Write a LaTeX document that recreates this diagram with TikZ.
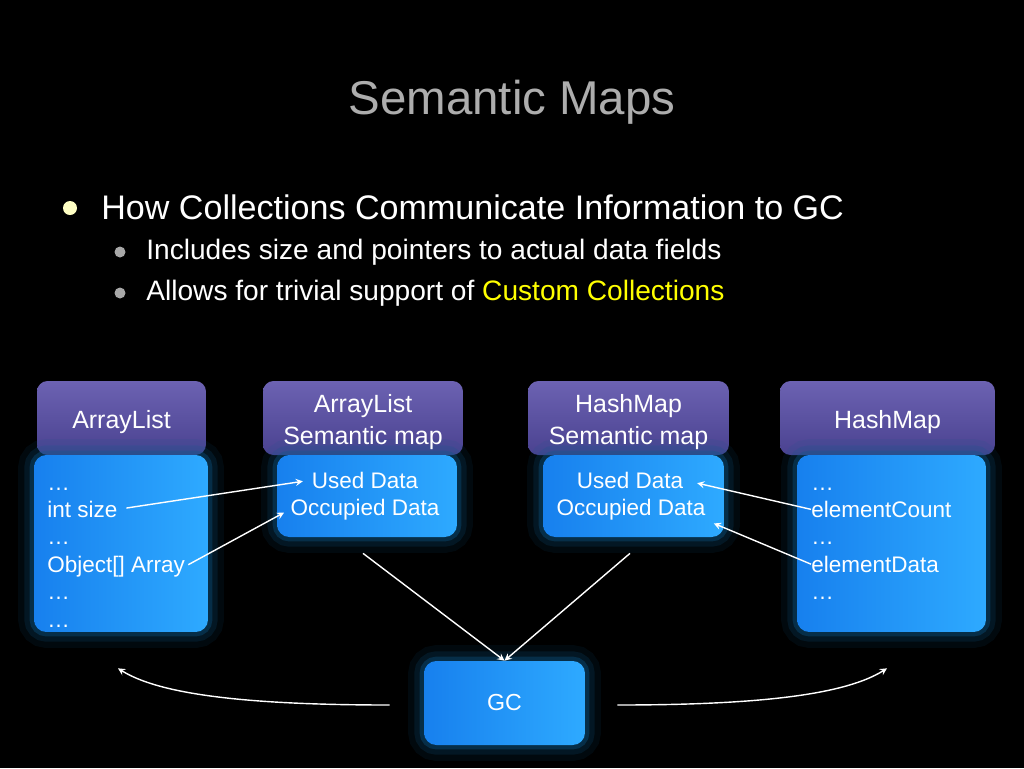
\documentclass[tikz,border=0pt]{standalone}
\usepackage{fontspec}
\setmainfont{Liberation Sans}
\usetikzlibrary{calc}
\definecolor{titlegray}{HTML}{ADADAD}
\definecolor{dotyellow}{HTML}{FFFFC4}
\definecolor{dotgray}{HTML}{A8A8A8}
\definecolor{hdtop}{HTML}{6C62B2}
\definecolor{hdbot}{HTML}{4A4290}
\definecolor{bodyleft}{HTML}{1780EE}
\definecolor{bodyright}{HTML}{2EAAFF}
\definecolor{glowblue}{HTML}{0E5A8C}
\definecolor{customyellow}{HTML}{FFFF00}
\tikzset{
  glow/.style={preaction={draw=glowblue,line width=18pt,opacity=0.10},
    preaction={draw=glowblue,line width=11pt,opacity=0.18},
    preaction={draw=glowblue,line width=5pt,opacity=0.35}},
  header/.style={rounded corners=6pt, top color=hdtop, bottom color=hdbot, minimum height=1.48cm},
  headtext/.style={text=white, align=center, inner sep=0pt, font=\fontsize{14.2}{18}\selectfont},
  databox/.style={glow, rounded corners=7pt, left color=bodyleft, right color=bodyright,
    text=white, font=\fontsize{13.2}{16}\selectfont},
  field/.style={text=white, inner sep=0pt, font=\fontsize{12.8}{15}\selectfont},
  link/.style={->, >=stealth, white, line width=0.8pt},
}
\begin{document}
\begin{tikzpicture}[x=0.02cm,y=-0.02cm]
\fill[black] (0,0) rectangle (1024,768);
\useasboundingbox (0,0) rectangle (1024,768);
% title and bullets
\node[text=titlegray, font=\fontsize{27}{32}\selectfont, anchor=base] (title) at (512,114) {Semantic Maps};
\fill[dotyellow] (70,208) circle (7);
\node[text=white, font=\fontsize{19.4}{23}\selectfont, anchor=base west, inner sep=0pt] (point) at (101,219) {How Collections Communicate Information to GC};
\fill[dotgray] (120,252) circle (5.5);
\node[text=white, font=\fontsize{16}{19}\selectfont, anchor=base west, inner sep=0pt] (subone) at (146,259) {Includes size and pointers to actual data fields};
\fill[dotgray] (120,293) circle (5.5);
\node[text=white, font=\fontsize{16}{19}\selectfont, anchor=base west, inner sep=0pt] (subtwo) at (146,300) {Allows for trivial support of \textcolor{customyellow}{Custom Collections}};
% boxes
\node[header, minimum width=3.38cm] (alhead) at (121.5,418) {};
\node[databox, minimum width=3.48cm, minimum height=3.54cm] (albody) at (121,543.5) {};
\node[header, minimum width=4cm] (ashead) at (363,418) {};
\node[databox, minimum width=3.6cm, minimum height=1.64cm] (asbody) at (367,496) {};
\node[header, minimum width=4.02cm] (hshead) at (628.5,418) {};
\node[databox, minimum width=3.62cm, minimum height=1.64cm] (hsbody) at (633.5,496) {};
\node[header, minimum width=4.3cm] (hmhead) at (887.5,418) {};
\node[databox, minimum width=3.78cm, minimum height=3.54cm] (hmbody) at (891.5,543.5) {};
\node[databox, minimum width=3.22cm, minimum height=1.68cm] (gc) at (504.5,703) {GC};
\node[headtext] (altitle) at ([yshift=-2.4pt]alhead.center) {ArrayList};
\node[headtext] (astitle) at ([yshift=-2.4pt]ashead.center) {ArrayList\\Semantic map};
\node[headtext] (hstitle) at ([yshift=-2.4pt]hshead.center) {HashMap\\Semantic map};
\node[headtext] (hmtitle) at ([yshift=-2.4pt]hmhead.center) {HashMap};
% fields
\foreach \t/\n [count=\i from 0] in {…/alf0, int size/alsize, …/alf2, {Object[] Array}/alarr, …/alf4, …/alf5}
  \node[field, anchor=base west] (\n) at (47,490+27.4*\i) {\t};
\foreach \t/\n [count=\i from 0] in {…/hmf0, elementCount/hmcount, …/hmf2, elementData/hmdata, …/hmf4}
  \node[field, anchor=base west] (\n) at (811,490+27.4*\i) {\t};
\node[field, anchor=base] (asused) at (365,488) {Used Data};
\node[field, anchor=base] (asocc) at (365,515) {Occupied Data};
\node[field, anchor=base] (hsused) at (630,488) {Used Data};
\node[field, anchor=base] (hsocc) at (631,515) {Occupied Data};
% arrows
\draw[link, shorten <=5pt, shorten >=5pt] (alsize.east) -- (asused.west);
\draw[link, shorten <=2pt, shorten >=4pt] (alarr.east) -- (asocc.west);
\draw[link, shorten >=8pt] (hmcount.west) -- (hsused.east);
\draw[link, shorten >=5pt] (hmdata.west) -- (hsocc.south east);
\draw[link] ($(asbody.south)+(-4,16)$) -- (gc.north);
\draw[link] ($(hsbody.south)+(-3.5,16)$) -- (gc.north);
\coordinate (leftend) at ($(albody.south)+(-3,36)$);
\coordinate (rightend) at ($(hmbody.south)+(-4.5,36)$);
\draw[link] ($(gc.west)+(-34,2)$) .. controls +(-150,0) and +(40,25) .. (leftend);
\draw[link] ($(gc.east)+(32,2)$) .. controls +(150,0) and +(-40,25) .. (rightend);
\end{tikzpicture}
\end{document}
